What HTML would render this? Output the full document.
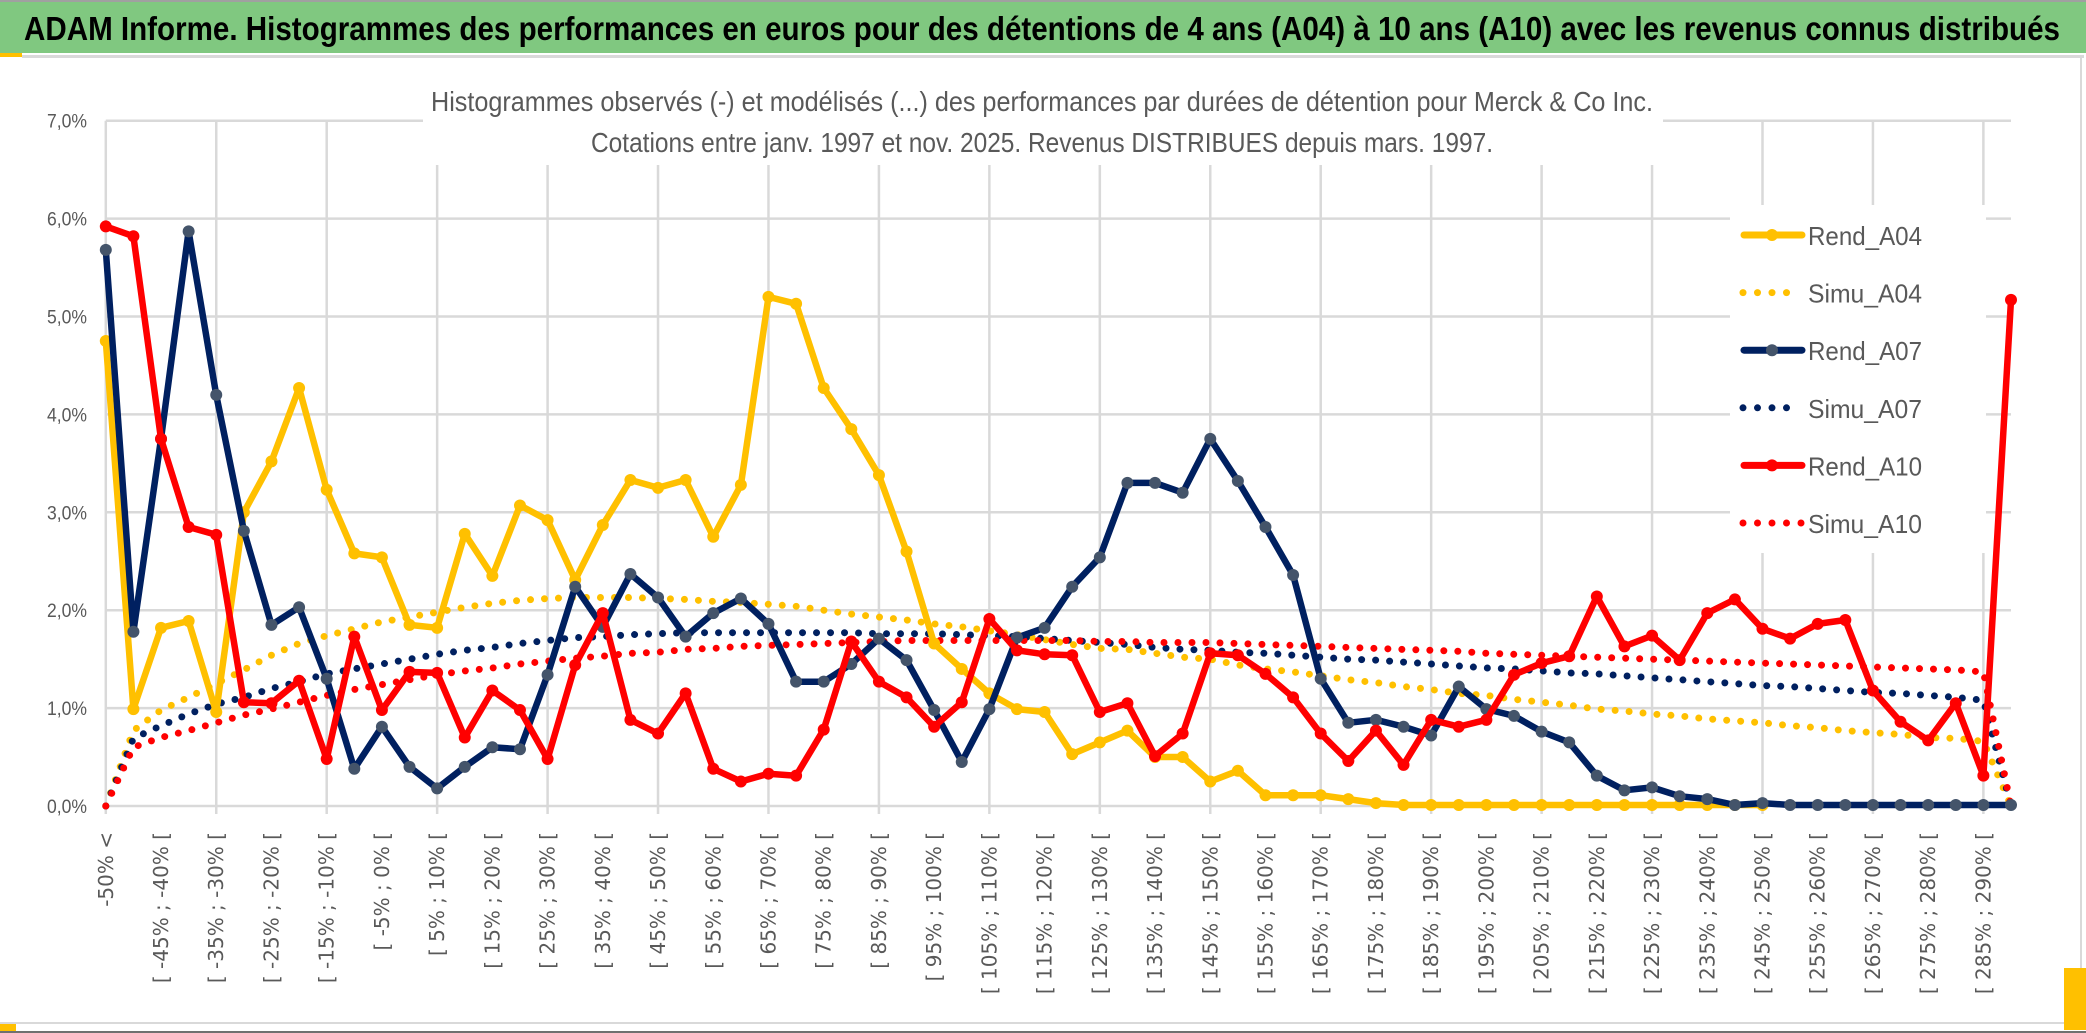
<!DOCTYPE html>
<html><head><meta charset="utf-8"><style>
html,body{margin:0;padding:0;background:#fff;}
svg{display:block;}
</style></head><body>
<svg id="chart" width="2086" height="1033" viewBox="0 0 2086 1033" xmlns="http://www.w3.org/2000/svg">
<rect x="0" y="0" width="2086" height="1033" fill="#fff"/>
<rect x="0" y="0" width="2086" height="2" fill="#a0a0a0"/>
<rect x="0" y="2" width="2086" height="51" fill="#80c880"/>
<rect x="0" y="53" width="22" height="4" fill="#ffc000"/>
<rect x="22" y="55" width="2062" height="3" fill="#d9d9d9"/>
<text x="24" y="40" font-family="Liberation Sans, sans-serif" font-size="33" font-weight="bold" fill="#000" textLength="2036" lengthAdjust="spacingAndGlyphs">ADAM Informe. Histogrammes des performances en euros pour des détentions de 4 ans (A04) à 10 ans (A10) avec les revenus connus distribués</text>
<rect x="2080" y="57" width="2" height="966" fill="#d9d9d9"/>
<rect x="0" y="1022" width="2082" height="2" fill="#d9d9d9"/>
<rect x="0" y="1031" width="2086" height="2" fill="#707070"/>
<rect x="0" y="1024" width="16" height="7" fill="#ffc000"/>
<rect x="2064" y="968" width="22" height="62" fill="#ffc000"/>
<g id="grid"></g>
<g id="yticks"></g>
<g id="xticks"></g>
<rect x="423" y="85" width="1240" height="80" fill="#fff"/>
<text x="431" y="111" font-family="Liberation Sans, sans-serif" font-size="28" fill="#595959" textLength="1222" lengthAdjust="spacingAndGlyphs">Histogrammes observés (-) et modélisés (...) des performances par durées de détention pour Merck &amp; Co Inc.</text>
<text x="591" y="152" font-family="Liberation Sans, sans-serif" font-size="28" fill="#595959" textLength="902" lengthAdjust="spacingAndGlyphs">Cotations entre janv. 1997 et nov. 2025. Revenus DISTRIBUES depuis mars. 1997.</text>
<rect x="1730" y="205" width="256" height="348" fill="#fff"/>
<g id="series"></g>
<g id="legend"></g>
</svg>
<script>
const categories = ["-50% <"];
for (let k = 1; k < 70; k++) { categories.push("[ " + (-55 + 5 * k) + "% ; " + (-50 + 5 * k) + "% ["); }
const yTicks = [0, 1, 2, 3, 4, 5, 6, 7];
const yTickLabels = ["0,0%", "1,0%", "2,0%", "3,0%", "4,0%", "5,0%", "6,0%", "7,0%"];
const rendA04 = [4.75,0.99,1.82,1.89,0.96,3.0,3.52,4.27,3.23,2.58,
2.54,1.85,1.82,2.78,2.35,3.07,2.92,2.31,2.87,3.33,
3.25,3.33,2.75,3.28,5.2,5.13,4.27,3.85,3.38,2.6,
1.66,1.40,1.15,0.99,0.96,0.53,0.65,0.77,0.50,0.50,
0.25,0.36,0.11,0.11,0.11,0.07,0.03,0.01,0.01,0.01,
0.01,0.01,0.01,0.01,0.01,0.01,0.01,0.01,0.01,0.01,
0.01,null,null,null,null,null,null,null,null,null];
const simuA04 = [0,0.77,0.98,1.11,1.25,1.39,1.54,1.66,1.74,1.81,
1.88,1.93,1.98,2.03,2.07,2.10,2.12,2.13,2.13,2.13,
2.12,2.11,2.09,2.08,2.06,2.04,2.00,1.96,1.93,1.90,
1.86,1.83,1.79,1.75,1.70,1.65,1.61,1.60,1.56,1.52,
1.50,1.44,1.40,1.37,1.33,1.29,1.26,1.22,1.19,1.15,
1.13,1.09,1.06,1.03,0.99,0.97,0.94,0.92,0.89,0.87,
0.85,0.82,0.80,0.77,0.75,0.73,0.70,0.69,0.66,0];
const rendA07 = [5.68,1.78,3.75,5.87,4.2,2.81,1.85,2.03,1.30,0.38,
0.81,0.40,0.18,0.40,0.60,0.58,1.34,2.24,1.83,2.37,
2.13,1.73,1.97,2.12,1.86,1.27,1.27,1.45,1.71,1.49,
0.98,0.45,0.99,1.72,1.82,2.24,2.54,3.3,3.3,3.2,
3.75,3.32,2.85,2.36,1.30,0.85,0.88,0.81,0.72,1.22,
0.99,0.92,0.76,0.65,0.31,0.16,0.19,0.10,0.07,0.01,
0.03,0.01,0.01,0.01,0.01,0.01,0.01,0.01,0.01,0.01];
const simuA07 = [0,0.69,0.82,0.94,1.04,1.11,1.20,1.27,1.35,1.40,
1.45,1.50,1.55,1.59,1.62,1.66,1.69,1.72,1.73,1.75,
1.76,1.77,1.77,1.77,1.77,1.77,1.77,1.77,1.76,1.76,
1.76,1.75,1.74,1.73,1.71,1.69,1.67,1.65,1.62,1.60,
1.59,1.57,1.56,1.54,1.52,1.50,1.49,1.47,1.45,1.43,
1.41,1.40,1.38,1.36,1.35,1.33,1.31,1.29,1.27,1.25,
1.23,1.22,1.20,1.18,1.16,1.15,1.13,1.11,1.08,0];
const rendA10 = [5.92,5.82,3.75,2.85,2.77,1.06,1.05,1.28,0.48,1.73,
0.98,1.37,1.36,0.70,1.18,0.98,0.48,1.44,1.97,0.88,
0.74,1.15,0.38,0.25,0.33,0.31,0.78,1.68,1.27,1.11,
0.81,1.06,1.91,1.59,1.55,1.54,0.96,1.05,0.51,0.74,
1.56,1.54,1.35,1.11,0.74,0.46,0.77,0.42,0.88,0.81,
0.88,1.34,1.46,1.53,2.14,1.63,1.74,1.49,1.97,2.11,
1.81,1.71,1.86,1.90,1.18,0.86,0.67,1.05,0.31,5.17];
const simuA10 = [0,0.60,0.70,0.77,0.85,0.93,0.99,1.06,1.13,1.19,
1.24,1.29,1.34,1.38,1.41,1.45,1.48,1.51,1.53,1.56,
1.57,1.60,1.61,1.63,1.64,1.65,1.66,1.67,1.68,1.69,
1.69,1.69,1.69,1.69,1.69,1.69,1.68,1.68,1.67,1.67,
1.67,1.66,1.65,1.64,1.63,1.62,1.61,1.60,1.59,1.58,
1.56,1.55,1.54,1.53,1.52,1.51,1.50,1.49,1.48,1.47,
1.46,1.45,1.44,1.43,1.42,1.41,1.40,1.39,1.37,0];
const seriesNames = ["Rend_A04","Simu_A04","Rend_A07","Simu_A07","Rend_A10","Simu_A10"];

const NS = "http://www.w3.org/2000/svg";
const X0 = 105.8, X1 = 2011, Y0 = 806, YTOP = 120.7, YMAX = 7;
function xPos(i) { return X0 + i * (X1 - X0) / (categories.length - 1); }
function yPos(v) { return Y0 - v * (Y0 - YTOP) / YMAX; }
function mk(tag, attrs, parent) {
  const e = document.createElementNS(NS, tag);
  for (const k in attrs) e.setAttribute(k, attrs[k]);
  parent.appendChild(e);
  return e;
}
const grid = document.getElementById('grid');
yTicks.forEach(function (t) {
  const l = mk('line', {x1: X0, x2: X1, y1: yPos(t), y2: yPos(t), stroke: '#d9d9d9', 'stroke-width': 2.5}, grid);
  
  
});
for (let i = 0; i < categories.length; i += 4) {
  const l = mk('line', {x1: xPos(i), x2: xPos(i), y1: yPos(7), y2: Y0 + 8, stroke: '#d9d9d9', 'stroke-width': 2.5}, grid);
  
  
}
const yt = document.getElementById('yticks');
yTicks.forEach(function (t, k) {
  const tx = mk('text', {x: 87, y: yPos(t) + 7, 'text-anchor': 'end', 'font-family': 'Liberation Sans, sans-serif', 'font-size': 19, fill: '#595959', textLength: 40, lengthAdjust: 'spacingAndGlyphs'}, yt);
  tx.textContent = yTickLabels[k];
  
  
});
const xt = document.getElementById('xticks');
for (let i = 0; i < categories.length; i += 2) {
  const x = xPos(i) + 7, y = 832;
  const tx = mk('text', {x: x, y: y, 'text-anchor': 'end', transform: 'rotate(-90 ' + x + ' ' + y + ')', 'font-family': 'DejaVu Sans, sans-serif', 'font-size': 20, fill: '#595959'}, xt);
  tx.textContent = categories[i];
  
  
}
const sg = document.getElementById('series');
function pathFor(vals) {
  let d = '', pen = false;
  vals.forEach(function (v, i) {
    if (v === null) { pen = false; return; }
    d += (pen ? 'L' : 'M') + xPos(i).toFixed(1) + ' ' + yPos(v).toFixed(1);
    pen = true;
  });
  return d;
}
function dotted(vals, color, name) {
  const p = mk('path', {d: pathFor(vals), fill: 'none', stroke: color, 'stroke-width': 7, 'stroke-linecap': 'round', 'stroke-dasharray': '0 14'}, sg);
  
  
}
function solid(vals, color, mcolor, name) {
  const g = mk('g', {}, sg);
  
  
  mk('path', {d: pathFor(vals), fill: 'none', stroke: color, 'stroke-width': 6.5, 'stroke-linejoin': 'round'}, g);
  vals.forEach(function (v, i) {
    if (v === null) return;
    const c = mk('circle', {cx: xPos(i), cy: yPos(v), r: 6, fill: mcolor}, g);
    
    
  });
}
dotted(simuA04, '#ffc000', 'simu-a04-line');
dotted(simuA07, '#002060', 'simu-a07-line');
dotted(simuA10, '#ff0000', 'simu-a10-line');
solid(rendA04, '#ffc000', '#ffc000', 'rend-a04-line');
solid(rendA07, '#002060', '#44546a', 'rend-a07-line');
solid(rendA10, '#ff0000', '#ff0000', 'rend-a10-line');

const lg = document.getElementById('legend');
const legColors = ['#ffc000','#ffc000','#002060','#002060','#ff0000','#ff0000'];
const legMarker = ['#ffc000','#ffc000','#44546a','#002060','#ff0000','#ff0000'];
seriesNames.forEach(function (n, k) {
  const y = 235 + k * 57.6;
  const g = mk('g', {}, lg);
  
  
  if (k % 2 === 0) {
    mk('line', {x1: 1744, x2: 1802, y1: y, y2: y, stroke: legColors[k], 'stroke-width': 7, 'stroke-linecap': 'round'}, g);
    mk('circle', {cx: 1772, cy: y, r: 6, fill: legMarker[k]}, g);
  } else {
    const n2 = (k === 5) ? 5 : 4;
    for (let j = 0; j < n2; j++) mk('circle', {cx: 1743 + j * 14.5, cy: y, r: 3.5, fill: legColors[k]}, g);
  }
  const t = mk('text', {x: 1808, y: y + 10, 'font-family': 'Liberation Sans, sans-serif', 'font-size': 26, fill: '#595959', textLength: 114, lengthAdjust: 'spacingAndGlyphs'}, g);
  t.textContent = n;
});
</script>
</body></html>
